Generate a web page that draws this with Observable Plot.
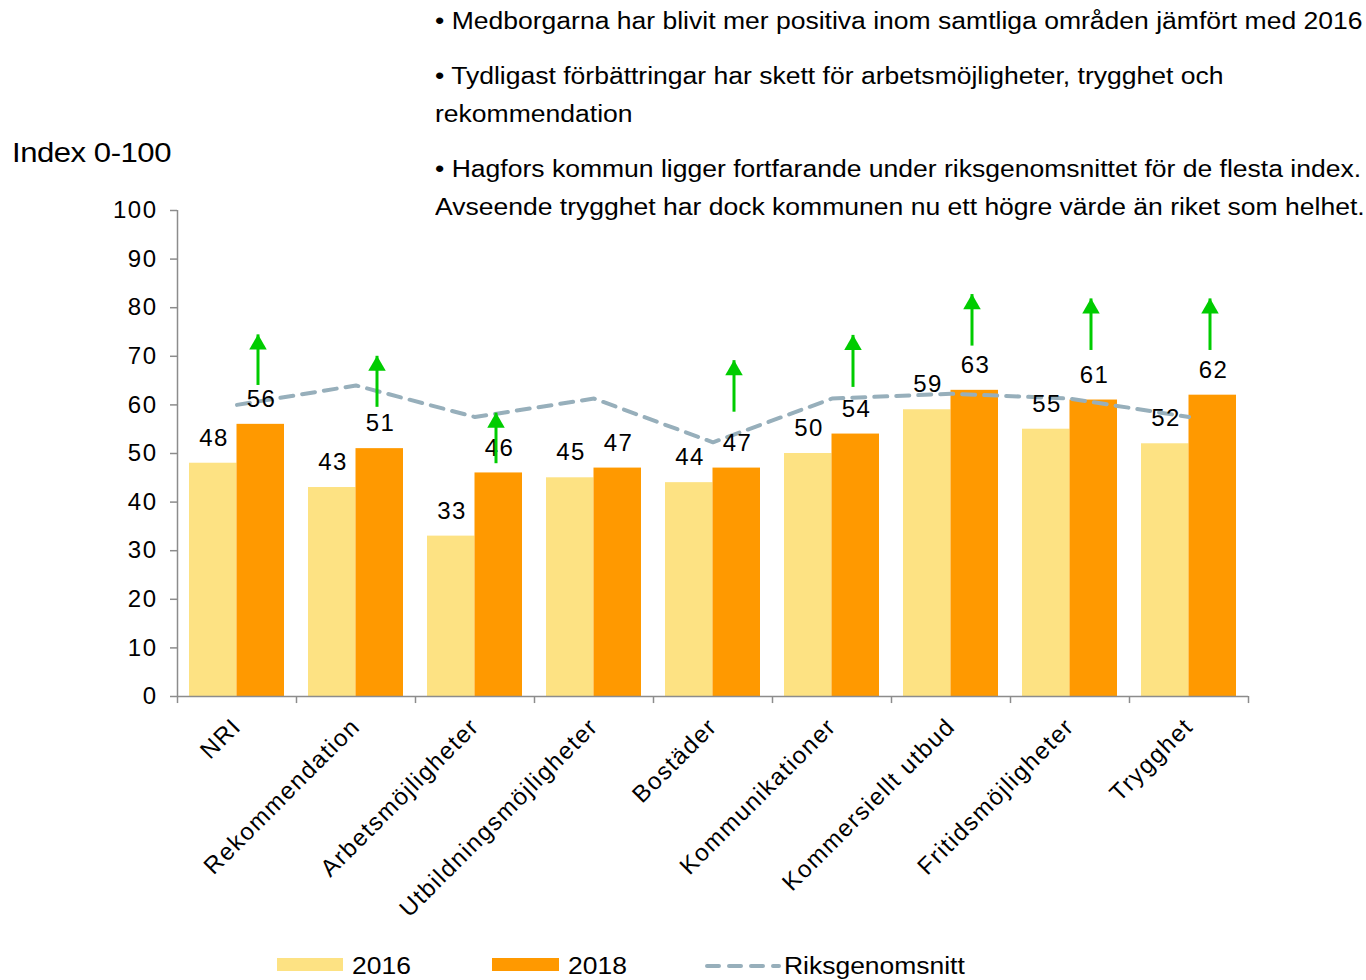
<!DOCTYPE html>
<html>
<head>
<meta charset="utf-8">
<script src="https://cdn.jsdelivr.net/npm/d3@7"></script>
<script src="https://cdn.jsdelivr.net/npm/@observablehq/plot@0.6"></script>
<style>
  html, body { margin: 0; padding: 0; background: #fff; }
  body { font-family: "Liberation Sans", Arial, sans-serif; color: #000; }
  #wrap { position: relative; width: 1366px; height: 980px; overflow: hidden; }
  .note { position: absolute; left: 435px; font-size: 23px; line-height: 26px; white-space: nowrap; transform: scaleX(1.153); transform-origin: 0 0; }
  #ytitle { position: absolute; left: 12px; top: 138px; font-size: 27px; line-height: 30px; white-space: nowrap; letter-spacing: -0.4px; transform: scaleX(1.15); transform-origin: 0 0; }
  .leg { position: absolute; top: 953px; font-size: 23px; line-height: 26px; white-space: nowrap; transform: scaleX(1.15); transform-origin: 0 0; }
  .sw { position: absolute; top: 958px; height: 13px; }
  #chart svg text { letter-spacing: 1.5px; }
</style>
</head>
<body>
<div id="wrap">
  <div id="chart"></div>
  <div id="ytitle">Index 0-100</div>
  <div class="note" style="top:8px">• Medborgarna har blivit mer positiva inom samtliga områden jämfört med 2016</div>
  <div class="note" style="top:63px">• Tydligast förbättringar har skett för arbetsmöjligheter, trygghet och</div>
  <div class="note" style="top:101px">rekommendation</div>
  <div class="note" style="top:156px">• Hagfors kommun ligger fortfarande under riksgenomsnittet för de flesta index.</div>
  <div class="note" style="top:194px">Avseende trygghet har dock kommunen nu ett högre värde än riket som helhet.</div>
  <div class="sw" style="left:277px;width:66px;background:#FDE283"></div>
  <div class="leg" style="left:352px">2016</div>
  <div class="sw" style="left:492px;width:67px;background:#FF9900"></div>
  <div class="leg" style="left:568px">2018</div>
  <svg style="position:absolute;left:705px;top:960px" width="76" height="12"><line x1="2" y1="6" x2="74" y2="6" stroke="#97AFBB" stroke-width="4" stroke-dasharray="12,10" stroke-linecap="round"/></svg>
  <div class="leg" style="left:784px">Riksgenomsnitt</div>
</div>
<script>
const categories = ["NRI","Rekommendation","Arbetsmöjligheter","Utbildningsmöjligheter","Bostäder","Kommunikationer","Kommersiellt utbud","Fritidsmöjligheter","Trygghet"];
const values2016 = [48, 43, 33, 45, 44, 50, 59, 55, 52];
const values2018 = [56, 51, 46, 47, 47, 54, 63, 61, 62];
const riksgenomsnitt = [60, 64, 57.5, 61.3, 52.3, 61.3, 62.3, 61.3, 57.5];
const arrowBase = [64.0, 59.5, 47.9, null, 58.5, 63.6, 72.1, 71.2, 71.2];
const arrowTip  = [74.4, 70.0, 58.3, null, 69.1, 74.3, 82.7, 81.8, 81.8];
const yTicks = [0, 10, 20, 30, 40, 50, 60, 70, 80, 90, 100];

const c2016 = "#FDE283", c2018 = "#FF9900", cRiks = "#97AFBB", cArrow = "#00CC00", cAxis = "#8C8C8C";

const rows = categories.map((c, i) => ({cat: c, v16: values2016[i], v18: values2018[i], riks: riksgenomsnitt[i], a0: arrowBase[i], a1: arrowTip[i]}));
const arrows = rows.filter(d => d.a0 != null);
const half = 119 / 2;

const chart = Plot.plot({
  width: 1366,
  height: 980,
  marginLeft: 177,
  marginRight: 118,
  marginTop: 210,
  marginBottom: 284,
  style: {fontFamily: "Liberation Sans, Arial, sans-serif", color: "#000", background: "transparent"},
  x: {domain: categories, padding: 0, label: null},
  y: {domain: [0, 100], label: null},
  marks: [
    Plot.barY(rows, {x: "cat", y: "v16", fill: c2016, insetLeft: 12, insetRight: half}),
    Plot.barY(rows, {x: "cat", y: "v18", fill: c2018, insetLeft: half, insetRight: 12}),
    Plot.ruleY([0], {stroke: cAxis, strokeWidth: 1.5}),
    Plot.ruleX([categories[0]], {x: d => d, dx: -half, y1: 0, y2: 100, stroke: cAxis, strokeWidth: 1.5}),
    Plot.ruleX(categories, {x: d => d, dx: -half, y1: 0, y2: -1.45, stroke: cAxis, strokeWidth: 1.5}),
    Plot.ruleX([categories[categories.length - 1]], {x: d => d, dx: half, y1: 0, y2: -1.45, stroke: cAxis, strokeWidth: 1.5}),
    Plot.lineY(rows, {x: "cat", y: "riks", stroke: cRiks, strokeWidth: 4, strokeDasharray: "13,9"}),
    Plot.text(rows, {x: "cat", y: "v16", text: d => String(d.v16), dx: -23, dy: -25, fontSize: 24, fill: "#000"}),
    Plot.text(rows, {x: "cat", y: "v18", text: d => String(d.v18), dx: 24.5, dy: -25, fontSize: 24, fill: "#000"}),
    Plot.ruleX(arrows, {x: "cat", y1: "a0", y2: "a1", dx: 21, stroke: cArrow, strokeWidth: 3}),
    Plot.dot(arrows, {x: "cat", y: "a1", dx: 21, dy: 9.5, symbol: "triangle", r: 6.5, fill: cArrow, stroke: null}),
    Plot.axisY({ticks: yTicks, tickSize: 7, tickPadding: 13, fontSize: 24, stroke: cAxis, strokeWidth: 1.5, tickFormat: d => String(d)}),
    Plot.axisX({tickSize: 0, tickRotate: -45, tickPadding: 26, fontSize: 24, label: null})
  ]
});
document.getElementById("chart").appendChild(chart);
</script>
</body>
</html>
